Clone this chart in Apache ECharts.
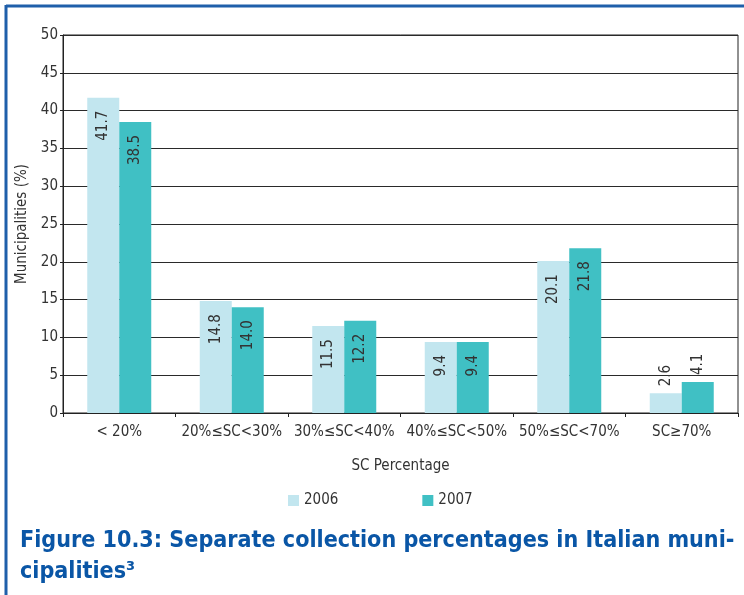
<!DOCTYPE html>
<html><head><meta charset="utf-8">
<script src="https://cdn.jsdelivr.net/npm/echarts@6/dist/echarts.min.js"></script>
<style>html,body{margin:0;padding:0;background:#fff}#c{width:744px;height:595px}</style>
</head><body><div id="c"></div>
<script>
const categories = ['< 20%', '20%≤SC<30%', '30%≤SC<40%', '40%≤SC<50%', '50%≤SC<70%', 'SC≥70%'];
const values2006 = [41.7, 14.8, 11.5, 9.4, 20.1, 2.6];
const values2007 = [38.5, 14.0, 12.2, 9.4, 21.8, 4.1];
const seriesNames = ['2006', '2007'];
const yTicks = [0, 5, 10, 15, 20, 25, 30, 35, 40, 45, 50];

const FONT = '"Liberation Sans Narrow", "DejaVu Sans Condensed", sans-serif';
const SMALL = 5;

function makeData(vals) {
  return vals.map(v => {
    const small = v < SMALL;
    return {
      value: v,
      label: small ? {position: 'top', align: 'left', verticalAlign: 'middle', distance: 7}
                   : {position: 'insideTop', align: 'right', verticalAlign: 'middle', distance: 13}
    };
  });
}

const chart = echarts.init(document.getElementById('c'));
const labelCommon = {show: true, rotate: 90, fontSize: 15, fontFamily: FONT, color: '#333',
  formatter: p => p.value.toFixed(1)};

chart.setOption({
  animation: false,
  textStyle: {fontFamily: FONT},
  grid: {left: 63, top: 35, right: 6, bottom: 182, show: true, borderColor: '#222', borderWidth: 1},
  legend: {
    top: 488, left: 283, itemWidth: 11, itemHeight: 11, itemGap: 84,
    icon: 'rect', textStyle: {fontSize: 15, color: '#333', fontFamily: FONT}, data: seriesNames
  },
  xAxis: {
    type: 'category', data: categories,
    name: 'SC Percentage', nameLocation: 'middle', nameGap: 46,
    nameTextStyle: {fontSize: 15, color: '#333', fontFamily: FONT},
    axisLine: {lineStyle: {color: '#222', width: 1}},
    axisTick: {show: true, length: 4, lineStyle: {color: '#222'}},
    axisLabel: {fontSize: 15, color: '#333', margin: 12, fontFamily: FONT, interval: 0}
  },
  yAxis: {
    type: 'value', min: yTicks[0], max: yTicks[yTicks.length - 1], interval: 5,
    name: 'Municipalities (%)', nameLocation: 'middle', nameGap: 28,
    nameTextStyle: {fontSize: 15, color: '#333', fontFamily: FONT},
    axisLine: {show: true, lineStyle: {color: '#222', width: 1}},
    axisTick: {show: true, length: 3, lineStyle: {color: '#222'}},
    axisLabel: {fontSize: 15, color: '#333', margin: 5, fontFamily: FONT},
    splitLine: {lineStyle: {color: '#2a2a2a', width: 1.2}}
  },
  series: [
    {name: seriesNames[0], type: 'bar', data: makeData(values2006), barWidth: 32, barGap: '0%',
     itemStyle: {color: '#C2E6EF'}, label: labelCommon},
    {name: seriesNames[1], type: 'bar', data: makeData(values2007), barWidth: 32, barGap: '0%',
     itemStyle: {color: '#40C0C4'}, label: labelCommon}
  ],
  graphic: [
    {type: 'line', shape: {x1: 6, y1: 6, x2: 744, y2: 6}, style: {stroke: '#1F5FAA', lineWidth: 3}},
    {type: 'line', shape: {x1: 6, y1: 5, x2: 6, y2: 595}, style: {stroke: '#1F5FAA', lineWidth: 3}},
    {type: 'text', left: 20, top: 525, style: {
      text: 'Figure 10.3: Separate collection percentages in Italian muni-\ncipalities³',
      font: 'bold 23.1px "Liberation Sans Narrow", "DejaVu Sans Condensed", sans-serif',
      fill: '#0A56A6', lineHeight: 31}}
  ]
});
</script></body></html>
